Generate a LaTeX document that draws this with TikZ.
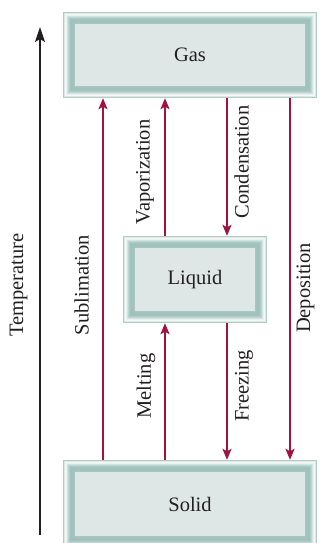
\documentclass[tikz,border=0pt]{standalone}
\usepackage{fontspec}
\setmainfont{Liberation Serif}
\usetikzlibrary{arrows.meta,backgrounds}

\definecolor{ink}{HTML}{231F20}
\definecolor{phasearrow}{HTML}{A3113E}
\definecolor{panelfill}{HTML}{DEE7E5}
% frame shades, outermost pixel first
\definecolor{fr0}{HTML}{B3CCC8}
\definecolor{fr1}{HTML}{DCE8E5}
\definecolor{fr2}{HTML}{F4F8F7}
\definecolor{fr3}{HTML}{EAF1EF}
\definecolor{fr4}{HTML}{D3E3E0}
\definecolor{fr5}{HTML}{BED6D1}
\definecolor{fr6}{HTML}{AECBC5}
\definecolor{fr7}{HTML}{A3C4BE}
\definecolor{fr8}{HTML}{A1C2BC}
\definecolor{fr9}{HTML}{A1C2BC}
\definecolor{fr10}{HTML}{A3C4BE}
\definecolor{fr11}{HTML}{A8C7C1}

\tikzset{
  phasebox/.style={inner sep=0pt, text=ink, font=\fontsize{20.5}{24}\selectfont},
  proclabel/.style={rotate=90, inner sep=0pt, text=ink, font=\fontsize{20.5}{24}\selectfont},
  flow/.style={draw=phasearrow, line width=1.8pt,
    -{Stealth[length=11pt,width=9pt,inset=2.5pt]}},
  tempaxis/.style={draw=ink, line width=2pt,
    -{Stealth[length=15pt,width=10pt,inset=3pt]}},
}

% layered frame drawn behind a named box node
\newcommand\phaseframe[1]{%
  \begin{pgfonlayer}{background}
    \foreach \k/\c in {0/fr0,1/fr1,2/fr2,3/fr3,4/fr4,5/fr5,6/fr6,7/fr7,8/fr8,9/fr9,10/fr10,11/fr11,12/panelfill}{
      \fill[\c] ([shift={(\k,\k)}]#1.north west) rectangle ([shift={(-\k,-\k)}]#1.south east);
    }
  \end{pgfonlayer}}

\begin{document}
\begin{tikzpicture}[x=1pt,y=-1pt]
  \useasboundingbox (0,0) rectangle (321,543);
  \clip (0,0) rectangle (321,543);
  \begin{pgfonlayer}{background}
    \fill[white] (0,0) rectangle (321,543);
  \end{pgfonlayer}

  % phase boxes
  \node[phasebox, minimum width=254pt, minimum height=86pt] (gas) at (190,55) {Gas};
  \node[phasebox, minimum width=144pt, minimum height=87pt] (liquid) at (195,279.5) {Liquid};
  \node[phasebox, minimum width=254pt, minimum height=88pt] (solid) at (190,504) {Solid};
  \phaseframe{gas}
  \phaseframe{liquid}
  \phaseframe{solid}

  % temperature axis
  \coordinate (tbot) at (40,535);
  \coordinate (ttop) at (40,27);
  \draw[tempaxis] (tbot) -- (ttop);
  \node[proclabel] (templab) at (18.5,285) {Temperature};

  % columns of the transition arrows
  \coordinate (xsub) at (103,0);
  \coordinate (xvap) at (165,0);
  \coordinate (xcon) at (227,0);
  \coordinate (xdep) at (290,0);

  \draw[flow] (xsub |- solid.north) -- (xsub |- gas.south);
  \draw[flow] (xvap |- liquid.north) -- (xvap |- gas.south);
  \draw[flow] (xcon |- gas.south) -- (xcon |- liquid.north);
  \draw[flow] (xdep |- gas.south) -- (xdep |- solid.north);
  \draw[flow] (xvap |- solid.north) -- (xvap |- liquid.south);
  \draw[flow] (xcon |- liquid.south) -- (xcon |- solid.north);

  % transition names
  \node[proclabel] (sublab) at (81.5,285) {Sublimation};
  \node[proclabel] (vaplab) at (145,172) {Vaporization};
  \node[proclabel] (conlab) at (241.5,162) {Condensation};
  \node[proclabel] (meltlab) at (146,386) {Melting};
  \node[proclabel] (freezelab) at (244,386) {Freezing};
  \node[proclabel] (deplab) at (305.5,288) {Deposition};
\end{tikzpicture}
\end{document}
